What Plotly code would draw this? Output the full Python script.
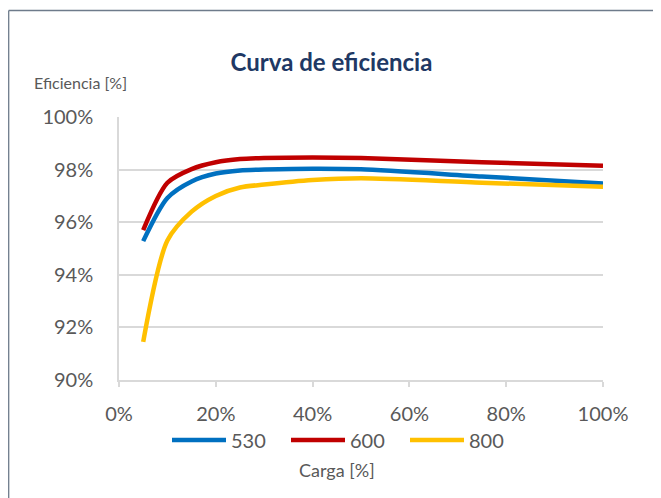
import plotly.graph_objects as go

carga = [5, 10, 15, 20, 25, 30, 40, 50, 75, 100]
ef_530 = [95.28, 96.92, 97.55, 97.85, 97.97, 98.00, 98.03, 98.01, 97.74, 97.47]
ef_600 = [95.70, 97.50, 98.02, 98.28, 98.40, 98.44, 98.46, 98.44, 98.28, 98.15]
ef_800 = [91.45, 95.30, 96.40, 97.00, 97.32, 97.43, 97.60, 97.67, 97.50, 97.35]

series = [("530", ef_530, "#0070C0"), ("600", ef_600, "#C00000"), ("800", ef_800, "#FFC000")]

FONT = "Lato"
GREY = "#595959"
OFF = 8  # page body offset
W, H = 661 - OFF, 498 - OFF

# plot area in screen pixels
PX0, PX1, PY0, PY1 = 119, 603, 117, 380
PW, PH = PX1 - PX0, PY1 - PY0


def px(X):
    return (X - PX0) / PW


def py(Y):
    return (PY1 - Y) / PH


fig = go.Figure()
for name, ys, col in series:
    fig.add_trace(go.Scatter(x=carga, y=ys, name=name, mode="lines",
                             line=dict(color=col, width=4.5, shape="spline", smoothing=0.8)))

fig.update_layout(
    width=W, height=H,
    margin=dict(l=PX0 - OFF, r=W - (PX1 - OFF), t=PY0 - OFF, b=H - (PY1 - OFF)),
    paper_bgcolor="white", plot_bgcolor="white",
    font=dict(family=FONT, color=GREY, size=20),
    title=dict(text="<b>Curva de eficiencia</b>", x=(331.5 - OFF) / W, xref="container", xanchor="center",
               y=1 - (62.5 - OFF) / H, yref="container", yanchor="middle",
               font=dict(family=FONT, size=24, color="#203864")),
    legend=dict(orientation="h", x=px(167), xanchor="left", y=py(440), yanchor="middle",
                font=dict(size=20, color=GREY), bgcolor="rgba(0,0,0,0)",
                itemwidth=54, entrywidth=50, entrywidthmode="pixels", tracegroupgap=0),
    showlegend=True,
)
fig.update_xaxes(range=[0, 100], dtick=20, ticksuffix="%", showgrid=False,
                 showline=True, linecolor="#d9d9d9", linewidth=1.5,
                 ticks="outside", ticklen=5, tickcolor="#d9d9d9", tickwidth=1.5,
                 ticklabelstandoff=10, zeroline=False)
fig.update_yaxes(range=[90, 100], dtick=2, ticksuffix="%", showgrid=True,
                 gridcolor="#d9d9d9", gridwidth=1.5,
                 showline=True, linecolor="#d9d9d9", linewidth=1.5,
                 ticks="", ticklabelstandoff=20, zeroline=False)

fig.add_annotation(text="Eficiencia [%]", xref="paper", yref="paper",
                   x=px(32), y=py(82), xanchor="left", yanchor="middle",
                   showarrow=False, font=dict(size=16, color=GREY, family=FONT))
fig.add_annotation(text="Carga [%]", xref="paper", yref="paper",
                   x=px(337), y=py(470), xanchor="center", yanchor="middle",
                   showarrow=False, font=dict(size=18, color=GREY, family=FONT))

# chart frame: only the left and top edges are visible in the reference
fig.add_shape(type="line", xref="paper", yref="paper",
              x0=px(OFF + 0.7), x1=px(OFF + 0.7), y0=py(600), y1=py(10.5),
              line=dict(color="#6e7b8b", width=1.3), layer="below")
fig.add_shape(type="line", xref="paper", yref="paper",
              x0=px(OFF + 0.7), x1=px(760), y0=py(10.5), y1=py(10.5),
              line=dict(color="#6e7b8b", width=1.3), layer="below")

fig.write_html("out.html")
